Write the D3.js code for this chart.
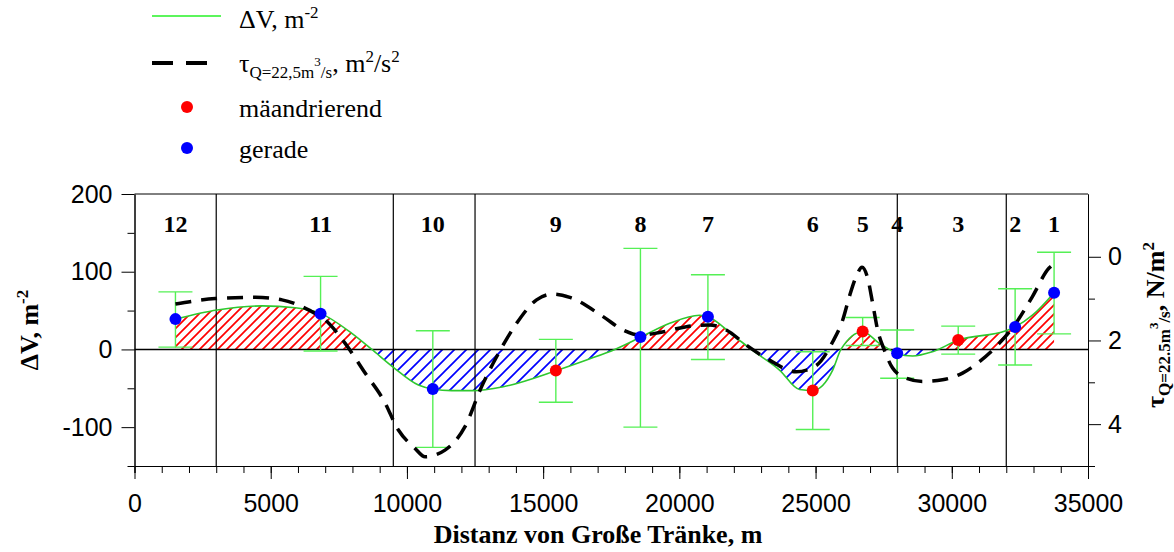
<!DOCTYPE html>
<html lang="de">
<head>
  <meta charset="UTF-8">
  <title>Delta V und Sohlschubspannung</title>
  <style>
    body, html {
      margin: 0;
      background-color: white;
    }
    .tick text { font-family: Arial, 'Liberation Sans', sans-serif; font-size: 25px; fill: black; }
    .serif { font-family: 'Times New Roman', 'Liberation Serif', serif; }
  </style>
</head>
<body>
  <svg id="svg" width="1174" height="552"></svg>
  <script src="https://d3js.org/d3.v7.min.js"></script>
  <script>
    // Abschnitte (Nummer + Grenzen)
    const sectionNames = ['12', '11', '10', '9', '8', '7', '6', '5', '4', '3', '2', '1']
    const sectionBounds = [3000, 9500, 12500, 28000, 32000]

    // Messpunkte
    const pointX = [1503, 6830, 10950, 15466, 18571, 21048, 24896, 26728, 27995, 30236, 32325, 33755]
    const pointV = [39, 46, -51, -27, 16, 42, -53, 23, -5, 12, 29, 73]
    const pointType = ['gerade', 'gerade', 'gerade', 'mäandrierend', 'gerade', 'gerade', 'mäandrierend', 'mäandrierend', 'gerade', 'mäandrierend', 'gerade', 'gerade']
    const errHigh = [74, 94, 24, 13, 130, 96, -3, 41, 25, 30, 78, 125]
    const errLow = [3, -2, -126, -68, -100, -13, -103, 5, -37, -6, -20, 20]

    // Glatte Kurve Delta V
    const dvX = [1503, 3031, 4680, 5901, 6830, 7979, 8712, 9503, 10420, 10950, 11644, 12400, 13535, 15466, 16592, 17629, 18571, 19645, 20744, 21048, 21964, 22638, 23676, 24409, 24896, 25629, 25932, 26728, 27341, 27707, 27995, 28561, 29294, 30236, 31984, 32325, 32960, 33755]
    const dvY = [39, 50.7, 56, 53.7, 46.4, 20.7, 0, -23, -45.8, -51, -53, -53, -48, -27.4, -13.6, 0, 15.6, 33.6, 44, 42, 18.5, 0, -26.5, -51.5, -52.7, -26.5, 0, 22.8, 7.8, 0, -5.5, -8.5, -3, 12, 24, 29, 44, 73]

    // Schubspannung tau (rechte Achse)
    const tauX = [1503, 2969, 4435, 5413, 6388, 7000, 7733, 8466, 9137, 9687, 10299, 10665, 11398, 12131, 12743, 13293, 14026, 14759, 15367, 15979, 17200, 17933, 18545, 19278, 20257, 21110, 21723, 22456, 23309, 24288, 25020, 25630, 25996, 26241, 26487, 26707, 26912, 27095, 27278, 27524, 27828, 28319, 28928, 29661, 30394, 31006, 31739, 32351, 32960, 33571, 33692]
    const tauY = [1.13, 1.0, 0.97, 1.03, 1.27, 1.51, 2.07, 2.78, 3.42, 4.14, 4.58, 4.78, 4.62, 4.06, 3.1, 2.39, 1.59, 1.03, 0.89, 0.97, 1.43, 1.75, 1.87, 1.81, 1.67, 1.63, 1.75, 2.11, 2.47, 2.75, 2.6, 2.03, 1.51, 0.95, 0.48, 0.25, 0.51, 1.11, 1.75, 2.23, 2.66, 2.9, 2.98, 2.94, 2.78, 2.51, 2.07, 1.59, 0.95, 0.27, 0.2]

    const xTicks = [0, 5000, 10000, 15000, 20000, 25000, 30000, 35000]
    const yTicks = [-100, 0, 100, 200]
    const tauTicks = [0, 2, 4]

    const pLeft = 134.5, pRight = 1088, pTop = 194, pBottom = 466
    const svg = d3.select('#svg')

    const xScale = d3.scaleLinear().domain([0, 35000]).range([pLeft, pRight])
    const yScale = d3.scaleLinear().domain([-150, 200]).range([pBottom, pTop])
    const tauScale = d3.scaleLinear().domain([-1.5, 5]).range([pTop, pBottom])
    const plain = d => String(d)

    // Schraffur
    const defs = svg.append('defs')
    function hatch(id, color, step) {
      defs.append('pattern')
        .attr('id', id)
        .attr('patternUnits', 'userSpaceOnUse')
        .attr('width', step).attr('height', step)
        .append('path')
        .attr('d', `M-1,1 l2,-2 M0,${step} l${step},${-step} M${step - 1},${step + 1} l2,-2`)
        .attr('stroke', color)
        .attr('stroke-width', 1.7)
    }
    hatch('hRed', '#ff0000', 9)
    hatch('hBlue', '#0000ff', 12)

    defs.append('clipPath').attr('id', 'clipUp')
      .append('rect').attr('x', pLeft).attr('y', pTop).attr('width', pRight - pLeft).attr('height', yScale(0) - pTop)
    defs.append('clipPath').attr('id', 'clipDown')
      .append('rect').attr('x', pLeft).attr('y', yScale(0)).attr('width', pRight - pLeft).attr('height', pBottom - yScale(0))

    const dvData = dvX.map((x, i) => [x, dvY[i]])
    const area = d3.area()
      .x(d => xScale(d[0]))
      .y0(yScale(0))
      .y1(d => yScale(d[1]))
      .curve(d3.curveMonotoneX)

    svg.append('path').datum(dvData).attr('d', area)
      .attr('fill', 'url(#hRed)').attr('clip-path', 'url(#clipUp)')
    svg.append('path').datum(dvData).attr('d', area)
      .attr('fill', 'url(#hBlue)').attr('clip-path', 'url(#clipDown)')

    // Achsen
    svg.append('g')
      .attr('transform', `translate(0, ${pBottom})`)
      .call(d3.axisBottom(xScale).tickValues(d3.range(0, 35001, 1000)).tickSize(7).tickFormat(''))
      .call(g => g.selectAll('line,path').attr('stroke', 'black'))
    svg.append('g')
      .attr('transform', `translate(0, ${pBottom})`)
      .call(d3.axisBottom(xScale).tickValues(xTicks).tickSize(13).tickPadding(15).tickSizeOuter(0).tickFormat(plain))
      .call(g => g.selectAll('line,path').attr('stroke', 'black'))

    svg.append('g')
      .attr('transform', `translate(${pLeft}, 0)`)
      .call(d3.axisLeft(yScale).tickValues([-150, -50, 50, 150]).tickSize(7).tickSizeOuter(0).tickFormat(''))
      .call(g => g.selectAll('line,path').attr('stroke', 'black'))
    svg.append('g')
      .attr('transform', `translate(${pLeft}, 0)`)
      .call(d3.axisLeft(yScale).tickValues(yTicks).tickSize(13).tickPadding(9).tickSizeOuter(0).tickFormat(plain))
      .call(g => g.selectAll('line,path').attr('stroke', 'black'))

    svg.append('g')
      .attr('transform', `translate(${pRight}, 0)`)
      .call(d3.axisRight(tauScale).tickValues([1, 3, 5]).tickSize(7).tickSizeOuter(0).tickFormat(''))
      .call(g => g.selectAll('line,path').attr('stroke', 'black'))
    svg.append('g')
      .attr('transform', `translate(${pRight}, 0)`)
      .call(d3.axisRight(tauScale).tickValues(tauTicks).tickSize(13).tickPadding(7).tickSizeOuter(0).tickFormat(plain))
      .call(g => g.selectAll('line,path').attr('stroke', 'black'))

    // Rahmen oben, Nulllinie, Abschnittsgrenzen
    svg.append('line').attr('x1', pLeft).attr('x2', pRight).attr('y1', pTop).attr('y2', pTop).attr('stroke', 'black')
    svg.append('line').attr('x1', pLeft).attr('x2', pRight).attr('y1', yScale(0)).attr('y2', yScale(0)).attr('stroke', 'black').attr('stroke-width', 1.5)
    svg.selectAll('.sect').data(sectionBounds).enter().append('line')
      .attr('x1', d => xScale(d)).attr('x2', d => xScale(d))
      .attr('y1', pTop).attr('y2', pBottom)
      .attr('stroke', 'black').attr('stroke-width', 1.2)

    svg.selectAll('.sname').data(sectionNames).enter().append('text')
      .attr('class', 'serif')
      .attr('x', (d, i) => xScale(pointX[i]))
      .attr('y', 232)
      .attr('text-anchor', 'middle')
      .style('font-size', '24px').style('font-weight', 'bold')
      .text(d => d)

    // Fehlerbalken
    const errG = svg.append('g').attr('stroke', '#55f055').attr('stroke-width', 1.4)
    pointX.forEach((x, i) => {
      const px = xScale(x)
      errG.append('line').attr('x1', px).attr('x2', px).attr('y1', yScale(errHigh[i])).attr('y2', yScale(errLow[i]))
      errG.append('line').attr('x1', px - 17).attr('x2', px + 17).attr('y1', yScale(errHigh[i])).attr('y2', yScale(errHigh[i]))
      errG.append('line').attr('x1', px - 17).attr('x2', px + 17).attr('y1', yScale(errLow[i])).attr('y2', yScale(errLow[i]))
    })

    // Kurven
    svg.append('path').datum(dvData)
      .attr('d', d3.line().x(d => xScale(d[0])).y(d => yScale(d[1])).curve(d3.curveMonotoneX))
      .attr('fill', 'none').attr('stroke', '#2ec82e').attr('stroke-width', 1.6)

    svg.append('path').datum(tauX.map((x, i) => [x, tauY[i]]))
      .attr('d', d3.line().x(d => xScale(d[0])).y(d => tauScale(d[1])).curve(d3.curveMonotoneX))
      .attr('fill', 'none').attr('stroke', 'black').attr('stroke-width', 3.5)
      .attr('stroke-dasharray', '16,10')

    const colorScale = d3.scaleOrdinal().domain(['mäandrierend', 'gerade']).range(['#ff0000', '#0000ff'])
    svg.selectAll('.pt').data(pointX).enter().append('circle')
      .attr('cx', d => xScale(d))
      .attr('cy', (d, i) => yScale(pointV[i]))
      .attr('r', 6)
      .attr('fill', (d, i) => colorScale(pointType[i]))

    // Achsentitel
    svg.append('text').attr('class', 'serif')
      .attr('x', 598).attr('y', 543)
      .attr('text-anchor', 'middle')
      .style('font-size', '26px').style('font-weight', 'bold')
      .text('Distanz von Große Tränke, m')

    const yl = svg.append('text').attr('class', 'serif')
      .attr('transform', 'translate(38, 330) rotate(-90)')
      .attr('text-anchor', 'middle')
      .style('font-size', '26px').style('font-weight', 'bold')
    yl.append('tspan').text('ΔV, m')
    yl.append('tspan').attr('dy', -10).style('font-size', '17px').text('-2')

    const yr = svg.append('text').attr('class', 'serif')
      .attr('transform', 'translate(1164, 325) rotate(-90)')
      .attr('text-anchor', 'middle')
      .style('font-size', '26px').style('font-weight', 'bold')
    yr.append('tspan').text('τ')
    yr.append('tspan').attr('dy', 6).style('font-size', '17px').text('Q=22.5m')
    yr.append('tspan').attr('dy', -12).style('font-size', '13px').text('3')
    yr.append('tspan').attr('dy', 12).style('font-size', '17px').text('/s')
    yr.append('tspan').attr('dy', -6).text(', N/m')
    yr.append('tspan').attr('dy', -10).style('font-size', '17px').text('2')

    // Legende
    const lg = svg.append('g').attr('class', 'serif').style('font-size', '26px')
    lg.append('line').attr('x1', 152).attr('x2', 221).attr('y1', 16).attr('y2', 16)
      .attr('stroke', '#5cf55c').attr('stroke-width', 2)
    const t1 = lg.append('text').attr('x', 239).attr('y', 28)
    t1.append('tspan').text('ΔV, m')
    t1.append('tspan').attr('dy', -10).style('font-size', '17px').text('-2')

    lg.append('line').attr('x1', 152).attr('x2', 207).attr('y1', 63).attr('y2', 63)
      .attr('stroke', 'black').attr('stroke-width', 4).attr('stroke-dasharray', '21,13')
    const t2 = lg.append('text').attr('x', 239).attr('y', 72)
    t2.append('tspan').text('τ')
    t2.append('tspan').attr('dy', 6).style('font-size', '17px').text('Q=22,5m')
    t2.append('tspan').attr('dy', -12).style('font-size', '13px').text('3')
    t2.append('tspan').attr('dy', 12).style('font-size', '17px').text('/s')
    t2.append('tspan').attr('dy', -6).text(', m')
    t2.append('tspan').attr('dy', -10).style('font-size', '17px').text('2')
    t2.append('tspan').attr('dy', 10).text('/s')
    t2.append('tspan').attr('dy', -10).style('font-size', '17px').text('2')

    const legendPts = ['mäandrierend', 'gerade']
    legendPts.forEach((name, i) => {
      lg.append('circle').attr('cx', 187).attr('cy', 107 + i * 41).attr('r', 6).attr('fill', colorScale(name))
      lg.append('text').attr('x', 239).attr('y', 117 + i * 41).text(name)
    })
  </script>
</body>
</html>
